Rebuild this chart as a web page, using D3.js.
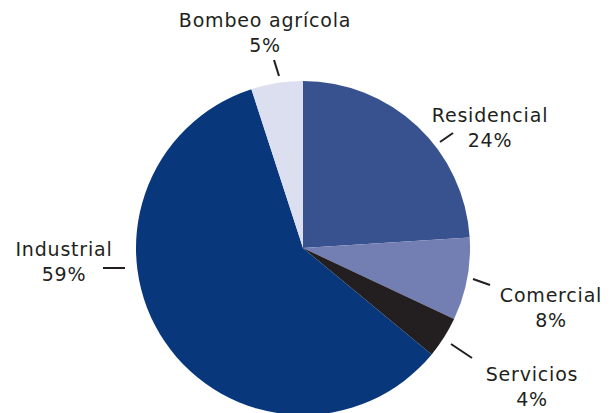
<!DOCTYPE html>
<html><head><meta charset="utf-8">
<script src="https://cdn.jsdelivr.net/npm/d3@7"></script>
<style>html,body{margin:0;padding:0;background:#fff;}</style>
</head><body>
<svg id="c" width="613" height="413"></svg>
<script>
const categories = ["Residencial", "Comercial", "Servicios", "Industrial", "Bombeo agrícola"];
const values = [24, 8, 4, 59, 5];
const labels = ["24%", "8%", "4%", "59%", "5%"];
const colors = ["#37528f", "#737fb3", "#231f20", "#09377b", "#dcdfef"];

const svg = d3.select("#c");
const cx = 303, cy = 248, R = 167;
const g = svg.append("g").attr("transform", `translate(${cx},${cy})`);

const pie = d3.pie().sort(null).value(d => d)(values);
const arc = d3.arc().innerRadius(0).outerRadius(R);
g.selectAll("path.slice").data(pie).enter().append("path")
  .attr("class","slice")
  .attr("d", arc)
  .attr("fill", (d,i) => colors[i]);

// label layout (text anchor centers and leader lines, in page pixels)
const textPos = [[490,122],[551,302],[532,381],[64,256],[265,27]];
const leaders = [[[440,142],[453,133]],[[473,279],[490,285]],[[451,344],[472,358]],[[103,268],[125,268]],[[274,60],[279,76]]];

const font = "'DejaVu Sans', sans-serif";
categories.forEach((c,i) => {
  const t = svg.append("text")
    .attr("x", textPos[i][0]).attr("y", textPos[i][1])
    .attr("text-anchor","middle")
    .attr("font-family", font).attr("font-size", 19)
    .attr("letter-spacing", "0.8px")
    .attr("fill","#231f20");
  t.append("tspan").attr("x", textPos[i][0]).text(c);
  t.append("tspan").attr("x", textPos[i][0]).attr("dy", 24.5).text(labels[i]);
  svg.append("line")
    .attr("x1", leaders[i][0][0]).attr("y1", leaders[i][0][1])
    .attr("x2", leaders[i][1][0]).attr("y2", leaders[i][1][1])
    .attr("stroke","#231f20").attr("stroke-width",2);
});
</script>
</body></html>
